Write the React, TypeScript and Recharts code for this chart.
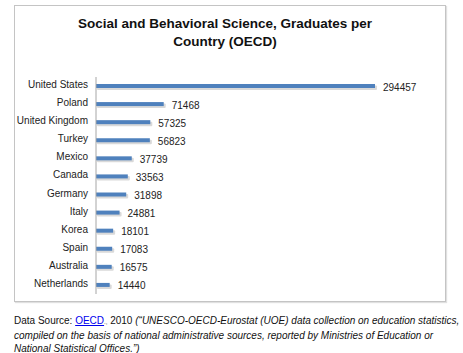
import { BarChart, Bar, XAxis, YAxis, LabelList } from 'recharts'

// ─── Data ─────────────────────────────────────────────────────────────────────

const countries = [
  'United States',
  'Poland',
  'United Kingdom',
  'Turkey',
  'Mexico',
  'Canada',
  'Germany',
  'Italy',
  'Korea',
  'Spain',
  'Australia',
  'Netherlands',
]

const graduates = [294457, 71468, 57325, 56823, 37739, 33563, 31898, 24881, 18101, 17083, 16575, 14440]

const data = countries.map((country, i) => ({ country, graduates: graduates[i] }))

const FONT = '"Liberation Sans", Arial, Helvetica, sans-serif'
const BAR_BLUE = '#4f81bd'

// ─── Bar with a soft drop shadow (Excel-ish) ──────────────────────────────────

function ShadowBar(props: any) {
  const { x, y, width, height } = props
  if (!width || width <= 0) return null
  return (
    <g>
      <rect x={x + 1} y={y + 1.5} width={width + 1} height={height + 0.5} fill="#d9d9d9" rx={1} />
      <rect x={x} y={y} width={width} height={height} fill={BAR_BLUE} />
    </g>
  )
}

function CountryTick(props: any) {
  const { x, y, payload } = props
  return (
    <text x={x} y={y} dy={-1.5} textAnchor="end" dominantBaseline="central" fontSize={10} fill="#222" fontFamily={FONT}>
      {payload.value}
    </text>
  )
}

// ─── Component ────────────────────────────────────────────────────────────────

export default function App() {
  return (
    <div style={{ position: 'absolute', left: 0, top: 0, width: 463, height: 353, background: '#fff', fontFamily: FONT }}>
      {/* chart frame */}
      <div
        style={{
          position: 'absolute',
          left: 14,
          top: 5,
          width: 430,
          height: 295,
          border: '1px solid #c4c4c4',
          boxShadow: '1px 1px 1px #e0e0e0',
        }}
      />

      <div
        style={{
          position: 'absolute',
          left: 14,
          top: 15,
          width: 422,
          textAlign: 'center',
          fontWeight: 'bold',
          fontSize: 13.5,
          lineHeight: '18px',
          color: '#111',
        }}
      >
        Social and Behavioral Science, Graduates per
        <br />
        Country (OECD)
      </div>

      <div style={{ position: 'absolute', left: 0, top: 0 }}>
        <BarChart
          width={463}
          height={353}
          data={data}
          layout="vertical"
          margin={{ top: 77, right: 88, bottom: 59, left: 0 }}
          barSize={4}
        >
          <XAxis type="number" hide domain={[0, 294457]} />
          <YAxis
            type="category"
            dataKey="country"
            width={96}
            tickLine={false}
            axisLine={{ stroke: '#a6a6a6' }}
            tick={<CountryTick />}
            interval={0}
          />
          <Bar dataKey="graduates" shape={<ShadowBar />} isAnimationActive={false}>
            <LabelList
              dataKey="graduates"
              position="right"
              offset={8}
              style={{ fontSize: 10, fill: '#222', fontFamily: FONT }}
              dy={1}
            />
          </Bar>
        </BarChart>
      </div>

      {/* footnote */}
      <div
        style={{
          position: 'absolute',
          left: 14,
          top: 314,
          fontSize: 10,
          lineHeight: '13px',
          color: '#111',
          whiteSpace: 'nowrap',
        }}
      >
        Data Source:{' '}
        <a href="#" style={{ color: '#0000ee', textDecoration: 'underline' }}>
          OECD
        </a>
        <span style={{ fontSize: 6 }}>.,</span> 2010{' '}
        <i>
          (“UNESCO-OECD-Eurostat (UOE) data collection on education statistics,
          <br />
          compiled on the basis of national administrative sources, reported by Ministries of Education or
          <br />
          National Statistical Offices.”)
        </i>
      </div>
    </div>
  )
}
